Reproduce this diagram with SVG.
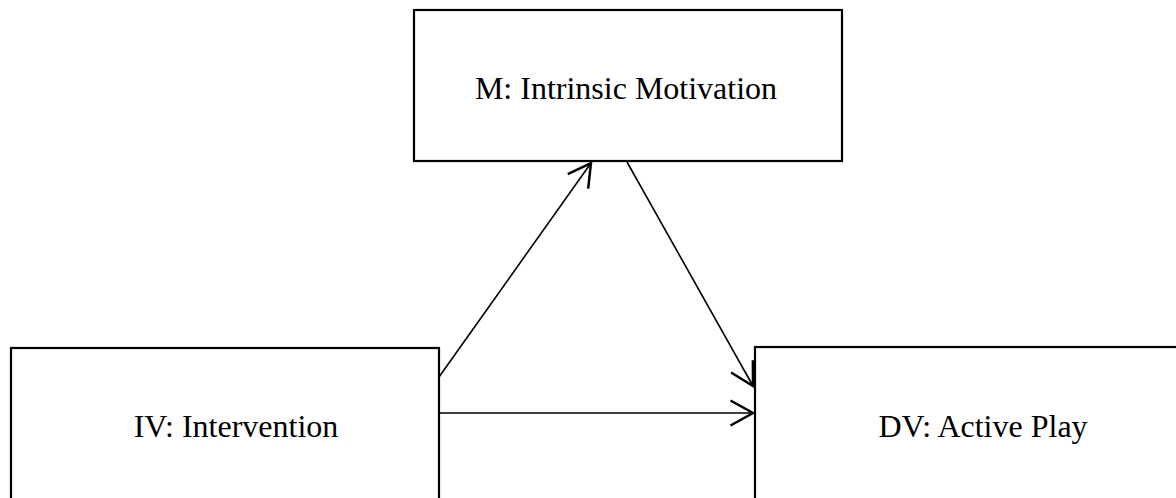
<svg xmlns="http://www.w3.org/2000/svg" width="1176" height="498" viewBox="0 0 1176 498">
<style>
.box{fill:#fff;stroke:#000;stroke-width:2.2}
.lbl{font-family:"Liberation Serif","Times New Roman",serif;font-size:32px;fill:#000;text-anchor:middle}
.conn{stroke:#000;stroke-width:1.6;fill:none}
</style>
<defs>
<marker id="arr" markerUnits="userSpaceOnUse" markerWidth="30" markerHeight="30" viewBox="-20 -12 22 24" refX="0" refY="0" orient="auto">
<path d="M-18,-10 L0,0 L-18,10" fill="none" stroke="#000" stroke-width="2"/>
</marker>
</defs>
<rect width="1176" height="498" fill="#fff"/>
<g id="node-m">
<rect class="box" x="414" y="10" width="428" height="151"/>
<text class="lbl" x="626" y="99">M: Intrinsic Motivation</text>
</g>
<g id="node-iv">
<rect class="box" x="11" y="348" width="428" height="170"/>
<text class="lbl" x="236" y="437">IV: Intervention</text>
</g>
<g id="node-dv">
<rect class="box" x="755" y="347" width="428" height="170"/>
<text class="lbl" x="983" y="437">DV: Active Play</text>
</g>
<g id="connectors">
<line class="conn" x1="439" y1="377" x2="591" y2="163" marker-end="url(#arr)"/>
<line class="conn" x1="627" y1="162" x2="753" y2="386" marker-end="url(#arr)"/>
<line class="conn" x1="439" y1="413" x2="753" y2="413" marker-end="url(#arr)"/>
</g>
</svg>
